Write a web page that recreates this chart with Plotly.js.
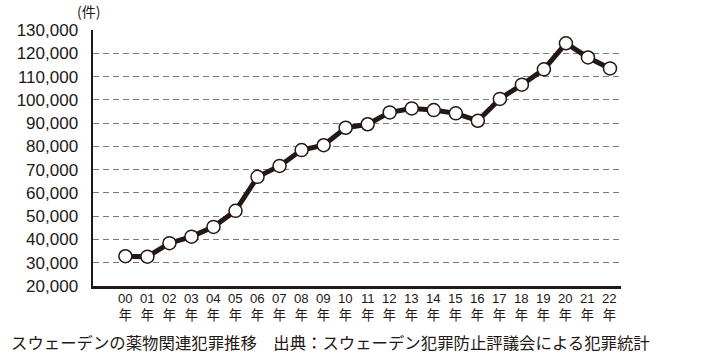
<!DOCTYPE html>
<html>
<head>
<meta charset="utf-8">
<script src="https://cdn.plot.ly/plotly-3.0.1.min.js"></script>
<style>html,body{margin:0;padding:0;background:#fff;}#chart{width:708px;height:356px;}</style>
</head>
<body>
<div id="chart"></div>
<script>
const yearLabels = ["00","01","02","03","04","05","06","07","08","09","10","11","12","13","14","15","16","17","18","19","20","21","22"];
const cases = [32800, 32600, 38400, 41200, 45400, 52300, 66900, 71600, 78400, 80500, 88000, 89500, 94600, 96300, 95600, 94200, 91000, 100400, 106500, 113100, 124300, 118200, 113500];
const yTicks = [20000, 30000, 40000, 50000, 60000, 70000, 80000, 90000, 100000, 110000, 120000, 130000];
const unitLabel = "(件)";
const yearSuffix = "年";
const caption = "スウェーデンの薬物関連犯罪推移　出典：スウェーデン犯罪防止評議会による犯罪統計";

const idx = yearLabels.map((_, i) => i);
const ink = "#231815";
const fontFam = "Liberation Sans, Arial, Noto Sans CJK JP, sans-serif";
const cjkFam = "Noto Sans CJK JP, sans-serif";
const plotH = 255.7;

const traces = [
  {
    x: idx, y: cases, type: "scatter", mode: "lines+markers",
    line: {color: ink, width: 5},
    marker: {symbol: "circle", size: 13, color: "#ffffff", line: {color: ink, width: 1.5}},
    showlegend: false, hoverinfo: "x+y"
  }
];

const yearAnn = idx.map(i => ({
  text: yearLabels[i] + "<br>" + yearSuffix, xref: "x", yref: "paper", x: i, y: -20.8 / plotH,
  xanchor: "center", yanchor: "middle", showarrow: false, borderpad: 0,
  font: {family: fontFam, size: 13.2, color: ink}
}));

const layout = {
  width: 708, height: 356,
  margin: {l: 93, r: 87, t: 30, b: 70},
  paper_bgcolor: "#ffffff", plot_bgcolor: "#ffffff",
  font: {family: fontFam, color: ink},
  xaxis: {
    range: [-1.47, 22.5], showticklabels: false,
    showgrid: false, zeroline: false, ticks: "",
    showline: true, linecolor: ink, linewidth: 2.5
  },
  yaxis: {
    range: [20000, 130000], tickvals: yTicks, tickformat: ",",
    showgrid: true, gridcolor: "#7a7a7a", gridwidth: 1, griddash: "6px,4px",
    zeroline: false, ticks: "",
    showline: true, linecolor: ink, linewidth: 2.5,
    tickfont: {family: fontFam, size: 17, color: ink},
    ticklabelstandoff: 9
  },
  annotations: [
    {text: unitLabel, xref: "paper", yref: "paper", x: (75 - 93) / 528, y: (285.7 - 11) / plotH,
     xanchor: "left", yanchor: "middle", showarrow: false,
     font: {family: cjkFam, size: 14, color: ink}},
    {text: caption, xref: "paper", yref: "paper", x: (9 - 93) / 528, y: (285.7 - 341.7) / plotH,
     xanchor: "left", yanchor: "middle", showarrow: false,
     font: {family: cjkFam, size: 16.4, color: ink}}
  ].concat(yearAnn)
};

Plotly.newPlot("chart", traces, layout, {displayModeBar: false, staticPlot: true});
</script>
</body>
</html>
